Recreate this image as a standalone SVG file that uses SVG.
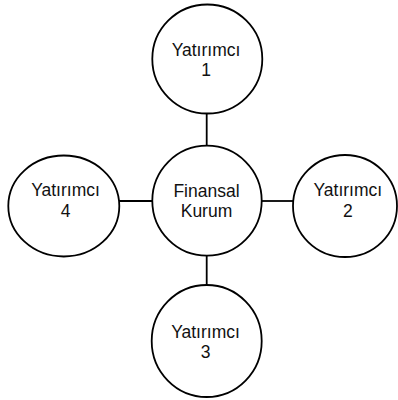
<svg xmlns="http://www.w3.org/2000/svg" width="398" height="400" viewBox="0 0 398 400">
  <style>
    .node { fill: #ffffff; stroke: #000000; stroke-width: 1.8; }
    .edge { stroke: #000000; stroke-width: 1.8; fill: none; }
    .label { font-family: "Liberation Sans", Arial, Helvetica, sans-serif; font-size: 17.5px; fill: #111111; text-anchor: middle; }
  </style>
  <rect width="398" height="400" fill="#ffffff"/>
  <g id="connectors">
    <line class="edge" x1="206.7" y1="113" x2="206.7" y2="146"/>
    <line class="edge" x1="206.7" y1="256" x2="206.7" y2="285"/>
    <line class="edge" x1="119" y1="201" x2="152" y2="201"/>
    <line class="edge" x1="262" y1="201" x2="293.5" y2="201"/>
  </g>
  <g id="finansal-kurum">
    <ellipse class="node" cx="207" cy="200.7" rx="54.7" ry="55"/>
    <text class="label" x="206.5" y="196.8">Finansal</text>
    <text class="label" x="206.5" y="217">Kurum</text>
  </g>
  <g id="yatirimci-1">
    <ellipse class="node" cx="207.3" cy="59" rx="55" ry="54.5"/>
    <text class="label" x="206" y="55.8">Yatırımcı</text>
    <text class="label" x="206" y="76">1</text>
  </g>
  <g id="yatirimci-2">
    <ellipse class="node" cx="345" cy="206" rx="52" ry="51"/>
    <text class="label" x="347.8" y="196.3">Yatırımcı</text>
    <text class="label" x="347.8" y="216.5">2</text>
  </g>
  <g id="yatirimci-3">
    <ellipse class="node" cx="206.7" cy="341" rx="55" ry="56"/>
    <text class="label" x="205.5" y="337.6">Yatırımcı</text>
    <text class="label" x="205.5" y="357.8">3</text>
  </g>
  <g id="yatirimci-4">
    <ellipse class="node" cx="63.8" cy="206" rx="55.5" ry="50.5"/>
    <text class="label" x="65.5" y="196.3">Yatırımcı</text>
    <text class="label" x="65.5" y="216.5">4</text>
  </g>
</svg>
